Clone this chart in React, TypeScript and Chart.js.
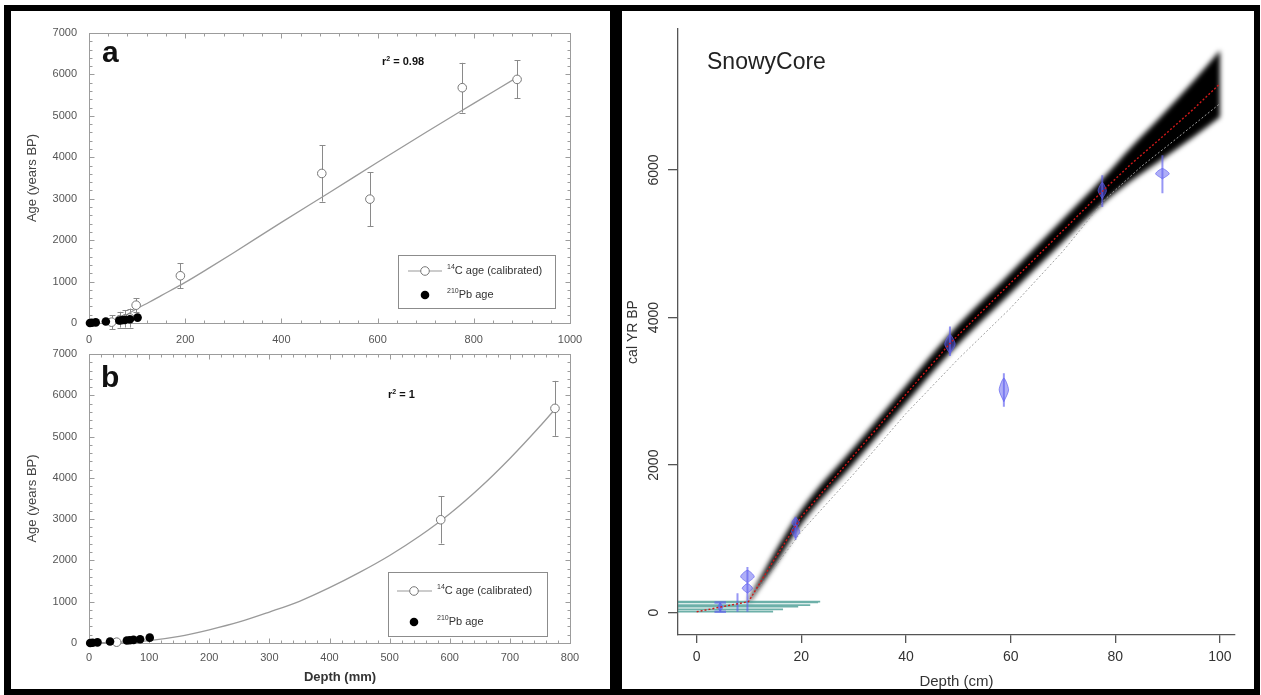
import React, { useEffect, useRef } from "react";
import { Chart, registerables } from "chart.js";

Chart.register(...registerables);

const FONT = "'Liberation Sans', Arial, Helvetica, sans-serif";
const PAGE_W = 1261;
const PAGE_H = 695;

// ---------------- Panels a & b (left) ----------------
// 210Pb ages (filled dots)
const PB_DEPTH = [2, 6, 14, 35, 63, 68, 74, 85, 101];
const PB_AGE = [0, 5, 15, 35, 60, 65, 75, 90, 130];

// panel a : calibrated 14C ages (open circles) with errors
const A_C14_DEPTH = [47, 64, 75, 85, 98, 190, 484, 584, 776, 890];
const A_C14_AGE = [20, 80, 100, 120, 430, 1140, 3610, 2990, 5680, 5880];
const A_C14_ERR = [170, 190, 210, 230, 170, 300, 680, 650, 600, 460];
// panel a : fitted curve
const A_FIT_DEPTH = [47, 75, 100, 125, 150, 200, 250, 300, 400, 500, 600, 700, 800, 890];
const A_FIT_AGE = [30, 180, 350, 500, 660, 980, 1330, 1690, 2430, 3150, 3880, 4600, 5300, 5930];

// panel b
const B_C14_DEPTH = [46, 585, 775];
const B_C14_AGE = [20, 2985, 5683];
const B_C14_ERR = [0, 575, 665];
const B_FIT_DEPTH = [0, 50, 100, 150, 200, 250, 300, 350, 400, 450, 500, 550, 600, 650, 700, 750, 776];
const B_FIT_AGE = [0, 20, 60, 160, 320, 510, 750, 1010, 1340, 1710, 2120, 2590, 3130, 3760, 4470, 5250, 5680];

const A_X_TICKS = [0, 200, 400, 600, 800, 1000];
const B_X_TICKS = [0, 100, 200, 300, 400, 500, 600, 700, 800];
const AB_Y_TICKS = [0, 1000, 2000, 3000, 4000, 5000, 6000, 7000];

// ---------------- SnowyCore (right) ----------------
const SC_X_TICKS = [0, 20, 40, 60, 80, 100];
const SC_Y_TICKS = [0, 2000, 4000, 6000];

const MEDIAN_DEPTH = [0, 9.9, 15, 20, 30, 40, 48.4, 60, 70, 77.5, 83, 89, 95, 100];
const MEDIAN_AGE = [13, 150, 740, 1300, 2130, 2960, 3650, 4470, 5180, 5710, 6080, 6450, 6830, 7170];

const BAND_DEPTH = [9.9, 15, 20, 30, 40, 48.4, 60, 70, 77.5, 83, 89, 95, 100];
const BAND_LOW = [125, 650, 1200, 2020, 2840, 3520, 4330, 5025, 5540, 5850, 6150, 6450, 6720];
const BAND_HIGH = [175, 830, 1400, 2240, 3080, 3780, 4610, 5335, 5880, 6310, 6750, 7210, 7620];

const RANGE_LO_DEPTH = [10, 20, 30, 40, 50, 60, 70, 78, 85, 90, 100];
const RANGE_LO_AGE = [150, 1100, 1880, 2700, 3440, 4130, 4900, 5600, 6050, 6330, 6900];

const TEAL_AGE = [150, 140, 104, 82, 46, 14];
const TEAL_END = [23.6, 23.2, 21.7, 19.4, 16.5, 14.6];

const DATE_DEPTH = [4.5, 7.8, 9.7, 18.9, 48.4, 58.7, 77.5, 89];
const DATE_LO = [13, 13, 13, 990, 3480, 2790, 5500, 5685];
const DATE_HI = [137, 263, 620, 1300, 3880, 3245, 5930, 6200];

const BLOB_DEPTH = [4.5, 9.7, 9.7, 18.9, 18.9, 48.4, 58.7, 77.5, 89];
const BLOB_AGE = [75, 490, 330, 1100, 1220, 3640, 3020, 5720, 5950];
const BLOB_HALF_AGE = [55, 85, 65, 90, 70, 130, 160, 110, 70];
const BLOB_HALF_DEPTH = [0.5, 1.3, 1.0, 0.8, 0.7, 1.0, 0.9, 0.8, 1.3];

const CAP_DEPTH = [4.5];
const CAP_AGES = [13, 137];
const CAP_HALF = 1.1;

// ------------------------------------------------------------
const pts = (xs: number[], ys: number[]) => xs.map((x, i) => ({ x, y: ys[i] }));
const setTicks = (vals: number[]) => (ax: any) => {
  ax.ticks = vals.map((v) => ({ value: v }));
};

function supText(ctx: CanvasRenderingContext2D, pre: string, sup: string, main: string, x: number, y: number, size: number, supSize: number, weight: string) {
  ctx.font = `${weight} ${size}px ${FONT}`;
  ctx.fillText(pre, x, y);
  let cx = x + ctx.measureText(pre).width;
  ctx.font = `${weight} ${supSize}px ${FONT}`;
  ctx.fillText(sup, cx, y - size * 0.38);
  cx += ctx.measureText(sup).width;
  ctx.font = `${weight} ${size}px ${FONT}`;
  ctx.fillText(main, cx, y);
}

type ABParams = {
  cX: number[]; cY: number[]; cErr: number[];
  fitX: number[]; fitY: number[];
  xMax: number; xTicks: number[]; xMinor: number; yMinor: number;
  top: number; bottom: number; left: number; right: number;
  xAxisH: number; xPad: number;
  panel: string; panelPos: [number, number];
  r2Main: string; r2Pos: [number, number];
  lg: { x: number; y: number; w: number; h: number; y1: number; y2: number; lx1: number; lx2: number; cx: number; tx: number };
  xTitle?: { text: string; x: number; y: number };
};

function abPlugin(p: ABParams) {
  return {
    id: "abDecor",
    beforeDatasetsDraw(chart: any) {
      const { ctx, chartArea: a } = chart;
      const xs = chart.scales.x;
      const ys = chart.scales.y;
      ctx.save();
      ctx.strokeStyle = "#9c9c9c";
      ctx.lineWidth = 1;
      const L = Math.round(a.left) + 0.5, R = Math.round(a.right) + 0.5;
      const T = Math.round(a.top) + 0.5, B = Math.round(a.bottom) + 0.5;
      ctx.strokeRect(L, T, R - L, B - T);
      ctx.beginPath();
      for (let v = xs.min; v <= xs.max + 1e-6; v += p.xMinor) {
        const len = p.xTicks.includes(v) ? 5 : 3;
        const px = Math.round(xs.getPixelForValue(v)) + 0.5;
        ctx.moveTo(px, B); ctx.lineTo(px, B - len);
        ctx.moveTo(px, T); ctx.lineTo(px, T + len);
      }
      for (let v = ys.min; v <= ys.max + 1e-6; v += p.yMinor) {
        const len = AB_Y_TICKS.includes(v) ? 5 : 3;
        const py = Math.round(ys.getPixelForValue(v)) + 0.5;
        ctx.moveTo(L, py); ctx.lineTo(L + len, py);
        ctx.moveTo(R, py); ctx.lineTo(R - len, py);
      }
      ctx.stroke();
      // error bars
      ctx.strokeStyle = "#8a8a8a";
      ctx.beginPath();
      p.cX.forEach((d, i) => {
        const e = p.cErr[i];
        if (!e) return;
        const px = Math.round(xs.getPixelForValue(d)) + 0.5;
        const y1 = ys.getPixelForValue(p.cY[i] - e);
        const y2 = ys.getPixelForValue(p.cY[i] + e);
        ctx.moveTo(px, y1); ctx.lineTo(px, y2);
        ctx.moveTo(px - 3, Math.round(y1) + 0.5); ctx.lineTo(px + 3, Math.round(y1) + 0.5);
        ctx.moveTo(px - 3, Math.round(y2) + 0.5); ctx.lineTo(px + 3, Math.round(y2) + 0.5);
      });
      ctx.stroke();
      ctx.restore();
    },
    afterDraw(chart: any) {
      const ctx: CanvasRenderingContext2D = chart.ctx;
      ctx.save();
      ctx.fillStyle = "#111";
      ctx.textBaseline = "alphabetic";
      ctx.font = `bold 30px ${FONT}`;
      ctx.fillText(p.panel, p.panelPos[0], p.panelPos[1]);
      supText(ctx, "r", "2", " = " + p.r2Main, p.r2Pos[0], p.r2Pos[1], 11, 7, "bold");
      // legend
      const g = p.lg;
      ctx.strokeStyle = "#8c8c8c";
      ctx.lineWidth = 1;
      ctx.strokeRect(g.x + 0.5, g.y + 0.5, g.w, g.h);
      ctx.strokeStyle = "#999";
      ctx.lineWidth = 1.2;
      ctx.beginPath();
      ctx.moveTo(g.lx1, g.y1); ctx.lineTo(g.lx2, g.y1);
      ctx.stroke();
      ctx.beginPath();
      ctx.arc(g.cx, g.y1, 4.3, 0, Math.PI * 2);
      ctx.fillStyle = "#fff";
      ctx.fill();
      ctx.strokeStyle = "#777";
      ctx.lineWidth = 1;
      ctx.stroke();
      ctx.beginPath();
      ctx.arc(g.cx, g.y2, 4.3, 0, Math.PI * 2);
      ctx.fillStyle = "#000";
      ctx.fill();
      ctx.fillStyle = "#333";
      ctx.textBaseline = "middle";
      supText(ctx, "", "14", "C age (calibrated)", g.tx, g.y1, 11, 7, "normal");
      supText(ctx, "", "210", "Pb age", g.tx, g.y2, 11, 7, "normal");
      if (p.xTitle) {
        ctx.textAlign = "center";
        ctx.fillStyle = "#333";
        ctx.font = `bold 13px ${FONT}`;
        ctx.fillText(p.xTitle.text, p.xTitle.x, p.xTitle.y);
      }
      ctx.restore();
    },
  };
}

function abConfig(p: ABParams): any {
  return {
    type: "line",
    data: {
      datasets: [
        {
          data: pts(PB_DEPTH, PB_AGE), showLine: false, pointRadius: 4.3,
          pointBackgroundColor: "#000", pointBorderColor: "#000", pointBorderWidth: 0, clip: false,
        },
        {
          data: pts(p.cX, p.cY), showLine: false, pointRadius: 4.3,
          pointBackgroundColor: "#fff", pointBorderColor: "#777", pointBorderWidth: 1, clip: false,
        },
        {
          data: pts(p.fitX, p.fitY), borderColor: "#9a9a9a", borderWidth: 1.3, pointRadius: 0,
          cubicInterpolationMode: "monotone", fill: false,
        },
      ],
    },
    options: {
      responsive: false, animation: false, events: [],
      layout: { padding: { left: 0, top: p.top, right: PAGE_W - p.right, bottom: PAGE_H - p.bottom - p.xAxisH } },
      plugins: { legend: { display: false }, tooltip: { enabled: false } },
      scales: {
        x: {
          type: "linear", min: 0, max: p.xMax,
          afterBuildTicks: setTicks(p.xTicks),
          afterFit: (ax: any) => { ax.height = p.xAxisH; },
          grid: { display: false, drawTicks: false }, border: { display: false },
          ticks: { color: "#555", font: { family: FONT, size: 11 }, padding: p.xPad, autoSkip: false, maxRotation: 0, callback: (v: any) => String(v) },
        },
        y: {
          type: "linear", min: 0, max: 7000,
          afterBuildTicks: setTicks(AB_Y_TICKS),
          afterFit: (ax: any) => { ax.width = p.left; },
          grid: { display: false, drawTicks: false }, border: { display: false },
          ticks: { color: "#555", font: { family: FONT, size: 11 }, padding: 12, autoSkip: false, callback: (v: any) => String(v) },
          title: { display: true, text: "Age (years BP)", color: "#444", font: { family: FONT, size: 13 }, padding: { top: 24.7, bottom: 0 } },
        },
      },
    },
    plugins: [abPlugin(p)],
  };
}

const BLUE_FILL = "rgba(95, 95, 240, 0.5)";
const BLUE_LINE = "rgba(95, 95, 240, 0.65)";

function scConfig(): any {
  const whisker: any[] = [];
  DATE_DEPTH.forEach((d, i) => {
    whisker.push({ x: d, y: DATE_LO[i] }, { x: d, y: DATE_HI[i] }, { x: d, y: null });
  });
  const caps: any[] = [];
  CAP_DEPTH.forEach((d) => {
    CAP_AGES.forEach((a) => caps.push({ x: d - CAP_HALF, y: a }, { x: d + CAP_HALF, y: a }, { x: d, y: null }));
  });
  const teal: any[] = [];
  TEAL_AGE.forEach((a, i) => teal.push({ x: -10, y: a }, { x: TEAL_END[i], y: a }, { x: 0, y: null }));
  const blobs = BLOB_DEPTH.map((d, i) => {
    const c = BLOB_AGE[i], h = BLOB_HALF_AGE[i], w = BLOB_HALF_DEPTH[i];
    return {
      data: [{ x: d, y: c - h }, { x: d + w, y: c }, { x: d, y: c + h }, { x: d - w, y: c }, { x: d, y: c - h }],
      fill: "shape", backgroundColor: BLUE_FILL, borderColor: BLUE_LINE, borderWidth: 1, pointRadius: 0, tension: 0.25,
    };
  });
  return {
    type: "line",
    data: {
      datasets: [
        { data: pts(MEDIAN_DEPTH, MEDIAN_AGE), borderColor: "#d01818", borderWidth: 1.4, borderDash: [2, 2], pointRadius: 0, fill: false },
        ...blobs,
        { data: whisker, borderColor: BLUE_LINE, borderWidth: 2, pointRadius: 0, fill: false, spanGaps: false },
        { data: caps, borderColor: BLUE_LINE, borderWidth: 2.5, pointRadius: 0, fill: false, spanGaps: false },
        { data: teal, borderColor: "rgba(60, 150, 140, 0.75)", borderWidth: 1.8, pointRadius: 0, fill: false, spanGaps: false },
        { data: pts(RANGE_LO_DEPTH, RANGE_LO_AGE), borderColor: "#a0a0a0", borderWidth: 1, borderDash: [2, 2], pointRadius: 0, fill: false },
      ],
    },
    options: {
      responsive: false, animation: false, events: [],
      layout: { padding: { left: 617, top: 29, right: PAGE_W - 1235, bottom: 0 } },
      plugins: { legend: { display: false }, tooltip: { enabled: false } },
      scales: {
        x: {
          type: "linear", min: -3.57, max: 102.87,
          afterBuildTicks: setTicks(SC_X_TICKS),
          afterFit: (ax: any) => { ax.height = 60; },
          grid: { display: true, drawOnChartArea: false, drawTicks: true, tickLength: 8, color: "#555", lineWidth: 1.3 },
          border: { display: true, color: "#555", width: 1.3 },
          ticks: { color: "#333", font: { family: FONT, size: 14 }, padding: 6, autoSkip: false, maxRotation: 0, callback: (v: any) => String(v) },
          title: { display: true, text: "Depth (cm)", color: "#333", font: { family: FONT, size: 15 }, padding: { top: 0, bottom: 4 } },
        },
        y: {
          type: "linear", min: -302, max: 7911,
          afterBuildTicks: setTicks(SC_Y_TICKS),
          afterFit: (ax: any) => { ax.width = 61; },
          grid: { display: true, drawOnChartArea: false, drawTicks: true, tickLength: 10, color: "#555", lineWidth: 1.3 },
          border: { display: true, color: "#555", width: 1.3 },
          ticks: { color: "#333", font: { family: FONT, size: 14 }, padding: -2, autoSkip: false, minRotation: 90, maxRotation: 90, crossAlign: "center", callback: (v: any) => String(v) },
          title: { display: true, text: "cal YR BP", color: "#333", font: { family: FONT, size: 14 }, padding: { top: 7.6, bottom: 0 } },
        },
      },
    },
    plugins: [
      {
        id: "scTitle",
        afterDraw(chart: any) {
          const ctx: CanvasRenderingContext2D = chart.ctx;
          ctx.save();
          ctx.fillStyle = "#222";
          ctx.font = `23px ${FONT}`;
          ctx.textBaseline = "alphabetic";
          ctx.fillText("SnowyCore", 707, 68.5);
          ctx.restore();
        },
      },
    ],
  };
}

function bandConfig(): any {
  return {
    type: "line",
    data: {
      datasets: [
        { data: pts(BAND_DEPTH, BAND_LOW), borderWidth: 0, borderColor: "rgba(0,0,0,0)", pointRadius: 0, fill: false, cubicInterpolationMode: "monotone" },
        { data: pts(BAND_DEPTH, BAND_HIGH), borderWidth: 0, borderColor: "rgba(0,0,0,0)", pointRadius: 0, fill: "-1", backgroundColor: "#000", cubicInterpolationMode: "monotone" },
      ],
    },
    options: {
      responsive: false, animation: false, events: [],
      layout: { padding: { left: 678, top: 29, right: PAGE_W - 1235, bottom: PAGE_H - 635 } },
      plugins: { legend: { display: false }, tooltip: { enabled: false } },
      scales: {
        x: { type: "linear", min: -3.57, max: 102.87, display: false },
        y: { type: "linear", min: -302, max: 7911, display: false },
      },
    },
  };
}

const A_PARAMS: ABParams = {
  cX: A_C14_DEPTH, cY: A_C14_AGE, cErr: A_C14_ERR, fitX: A_FIT_DEPTH, fitY: A_FIT_AGE,
  xMax: 1000, xTicks: A_X_TICKS, xMinor: 40, yMinor: 200,
  top: 33, bottom: 323, left: 89, right: 570, xAxisH: 20, xPad: 10.4,
  panel: "a", panelPos: [102, 62], r2Main: "0.98", r2Pos: [382, 65],
  lg: { x: 398, y: 255, w: 157, h: 53, y1: 271, y2: 295, lx1: 408, lx2: 442, cx: 425, tx: 447 },
};

const B_PARAMS: ABParams = {
  cX: B_C14_DEPTH, cY: B_C14_AGE, cErr: B_C14_ERR, fitX: B_FIT_DEPTH, fitY: B_FIT_AGE,
  xMax: 800, xTicks: B_X_TICKS, xMinor: 20, yMinor: 200,
  top: 354, bottom: 643, left: 89, right: 570, xAxisH: 52, xPad: 8.4,
  panel: "b", panelPos: [101, 387], r2Main: "1", r2Pos: [388, 398],
  lg: { x: 388, y: 572, w: 159, h: 64, y1: 591, y2: 622, lx1: 397, lx2: 432, cx: 414, tx: 437 },
  xTitle: { text: "Depth (mm)", x: 340, y: 677 },
};

export default function App() {
  const bandRef = useRef<HTMLCanvasElement>(null);
  const scRef = useRef<HTMLCanvasElement>(null);
  const aRef = useRef<HTMLCanvasElement>(null);
  const bRef = useRef<HTMLCanvasElement>(null);

  useEffect(() => {
    document.body.style.overflow = "hidden";
    const charts = [
      new Chart(bandRef.current as HTMLCanvasElement, bandConfig()),
      new Chart(scRef.current as HTMLCanvasElement, scConfig()),
      new Chart(aRef.current as HTMLCanvasElement, abConfig(A_PARAMS)),
      new Chart(bRef.current as HTMLCanvasElement, abConfig(B_PARAMS)),
    ];
    return () => charts.forEach((c) => c.destroy());
  }, []);

  const cs: React.CSSProperties = { position: "absolute", left: 0, top: 0 };
  return (
    <div style={{ position: "absolute", left: 0, top: 0, width: PAGE_W, height: PAGE_H, background: "#fff", overflow: "hidden" }}>
      <canvas ref={bandRef} width={PAGE_W} height={PAGE_H} style={{ ...cs, filter: "blur(2.5px)" }} />
      <canvas ref={scRef} width={PAGE_W} height={PAGE_H} style={cs} />
      <canvas ref={aRef} width={PAGE_W} height={PAGE_H} style={cs} />
      <canvas ref={bRef} width={PAGE_W} height={PAGE_H} style={cs} />
      <div style={{ position: "absolute", left: 4, top: 5, width: 612, height: 690, boxSizing: "border-box", borderStyle: "solid", borderColor: "#000", borderWidth: "6px 6px 6px 7px" }} />
      <div style={{ position: "absolute", left: 616, top: 5, width: 644, height: 690, boxSizing: "border-box", border: "6px solid #000" }} />
    </div>
  );
}
